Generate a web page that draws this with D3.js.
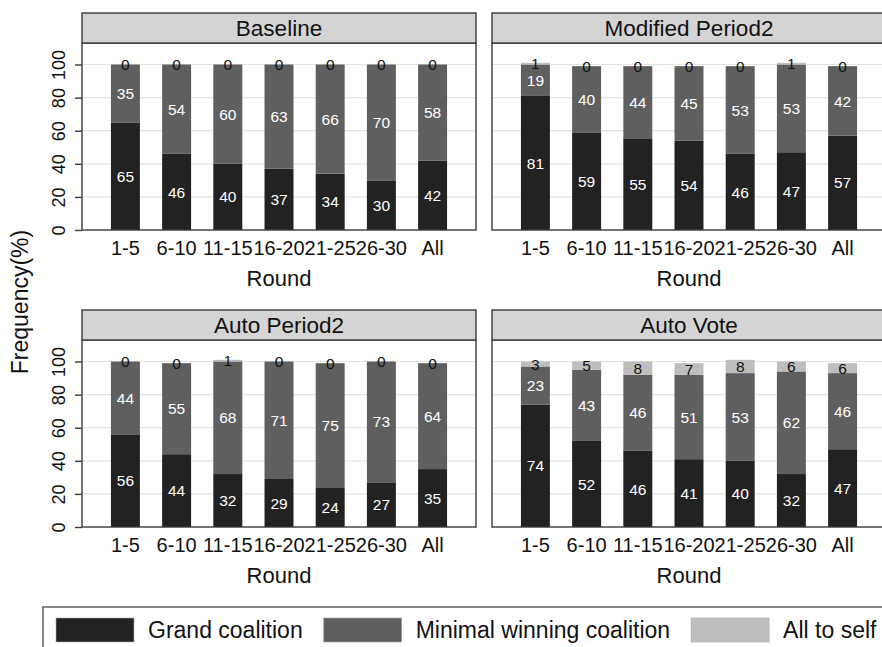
<!DOCTYPE html>
<html>
<head>
<meta charset="utf-8">
<script src="https://cdn.jsdelivr.net/npm/d3@7"></script>
<style>
  body { margin: 0; background: #fff; }
  svg { display: block; font-family: "Liberation Sans", Arial, Helvetica, sans-serif; }
</style>
</head>
<body>
<div id="chart-area"></div>
<script>
// categories
var rounds = ["1-5", "6-10", "11-15", "16-20", "21-25", "26-30", "All"];
var panelTitles = ["Baseline", "Modified Period2", "Auto Period2", "Auto Vote"];
var seriesNames = ["Grand coalition", "Minimal winning coalition", "All to self"];
var yTicks = [0, 20, 40, 60, 80, 100];

// series values (%), one array per panel and series
var baselineGrand = [65, 46, 40, 37, 34, 30, 42];
var baselineMinimal = [35, 54, 60, 63, 66, 70, 58];
var baselineSelf = [0, 0, 0, 0, 0, 0, 0];

var modifiedGrand = [81, 59, 55, 54, 46, 47, 57];
var modifiedMinimal = [19, 40, 44, 45, 53, 53, 42];
var modifiedSelf = [1, 0, 0, 0, 0, 1, 0];

var autoP2Grand = [56, 44, 32, 29, 24, 27, 35];
var autoP2Minimal = [44, 55, 68, 71, 75, 73, 64];
var autoP2Self = [0, 0, 1, 0, 0, 0, 0];

var autoVoteGrand = [74, 52, 46, 41, 40, 32, 47];
var autoVoteMinimal = [23, 43, 46, 51, 53, 62, 46];
var autoVoteSelf = [3, 5, 8, 7, 8, 6, 6];

var colors = ["#222222", "#5f5f5f", "#bebebe"];
var labelColors = ["#fff", "#fff", "#111"];

var panels = [
    { title: panelTitles[0], series: [baselineGrand, baselineMinimal, baselineSelf], left: 82, top: 13, yAxis: true },
    { title: panelTitles[1], series: [modifiedGrand, modifiedMinimal, modifiedSelf], left: 492, top: 13, yAxis: false },
    { title: panelTitles[2], series: [autoP2Grand, autoP2Minimal, autoP2Self], left: 82, top: 310, yAxis: true },
    { title: panelTitles[3], series: [autoVoteGrand, autoVoteMinimal, autoVoteSelf], left: 492, top: 310, yAxis: false }
];

var width = 882, height = 647;
var panelW = 394, stripH = 30, plotH = 187;

var svg = d3.select("#chart-area")
    .append("svg")
    .attr("width", width)
    .attr("height", height);

var x = d3.scaleBand()
    .domain(rounds)
    .range([0, panelW])
    .paddingInner(0.434)
    .paddingOuter(0.565);

var y = d3.scaleLinear()
    .domain([0, 113])
    .range([plotH, 0]);

panels.forEach(function(p) {
    var g = svg.append("g")
        .attr("transform", "translate(" + p.left + "," + (p.top + stripH) + ")");

    // gridlines
    g.selectAll(".grid")
        .data(yTicks.slice(1))
        .enter().append("line")
        .attr("x1", 0).attr("x2", panelW)
        .attr("y1", d => y(d)).attr("y2", d => y(d))
        .attr("stroke", "#e4e4e4")
        .attr("stroke-width", 1.2);

    // stack the three series
    var rows = rounds.map(function(r, i) {
        return { round: r, grand: p.series[0][i], minimal: p.series[1][i], self: p.series[2][i] };
    });
    var stack = d3.stack().keys(["grand", "minimal", "self"])(rows);

    stack.forEach(function(layer, k) {
        g.append("g").selectAll("rect")
            .data(layer)
            .enter().append("rect")
            .attr("x", d => x(d.data.round))
            .attr("y", d => y(d[1]))
            .attr("width", x.bandwidth())
            .attr("height", d => y(d[0]) - y(d[1]))
            .attr("fill", colors[k]);
    });

    stack.forEach(function(layer, k) {
        g.append("g").selectAll("text")
            .data(layer)
            .enter().append("text")
            .attr("x", d => x(d.data.round) + x.bandwidth() / 2)
            .attr("y", d => y((d[0] + d[1]) / 2))
            .attr("dy", "0.36em")
            .attr("text-anchor", "middle")
            .attr("font-size", 15.5)
            .attr("fill", labelColors[k])
            .text(d => d[1] - d[0]);
    });

    // strip
    svg.append("rect")
        .attr("x", p.left).attr("y", p.top)
        .attr("width", panelW).attr("height", stripH)
        .attr("fill", "#d4d4d4")
        .attr("stroke", "#3a3a3a")
        .attr("stroke-width", 1.4);

    svg.append("text")
        .attr("x", p.left + panelW / 2)
        .attr("y", p.top + stripH / 2)
        .attr("dy", "0.36em")
        .attr("text-anchor", "middle")
        .attr("font-size", 22.5)
        .attr("fill", "#111")
        .text(p.title);

    // panel frame
    g.append("rect")
        .attr("x", 0).attr("y", 0)
        .attr("width", panelW).attr("height", plotH)
        .attr("fill", "none")
        .attr("stroke", "#3a3a3a")
        .attr("stroke-width", 1.4);

    // x axis
    var xAxisG = g.append("g")
        .attr("transform", "translate(0," + plotH + ")")
        .call(d3.axisBottom(x).tickSize(0).tickPadding(11));
    xAxisG.select(".domain").remove();
    xAxisG.selectAll("text")
        .attr("font-size", 20)
        .attr("fill", "#111")
        .attr("font-family", null);

    g.append("text")
        .attr("x", panelW / 2)
        .attr("y", plotH + 56)
        .attr("text-anchor", "middle")
        .attr("font-size", 22)
        .attr("fill", "#111")
        .text("Round");

    // y axis
    if (p.yAxis) {
        var yAxisG = g.append("g")
            .call(d3.axisLeft(y).tickValues(yTicks).tickSize(7).tickFormat(d3.format("d")));
        yAxisG.select(".domain").remove();
        yAxisG.selectAll(".tick line").attr("stroke", "#3a3a3a").attr("stroke-width", 1.4);
        yAxisG.selectAll("text")
            .attr("transform", "rotate(-90)")
            .attr("x", 0)
            .attr("y", -17)
            .attr("dy", 0)
            .attr("text-anchor", "middle")
            .attr("font-size", 18)
            .attr("fill", "#111")
            .attr("font-family", null);
    }
});

// y label
svg.append("text")
    .attr("transform", "translate(28,302) rotate(-90)")
    .attr("text-anchor", "middle")
    .attr("font-size", 23)
    .attr("fill", "#111")
    .text("Frequency(%)");

// legend
var legend = svg.append("g");
legend.append("rect")
    .attr("x", 43).attr("y", 607)
    .attr("width", 900).attr("height", 80)
    .attr("fill", "#fff")
    .attr("stroke", "#555")
    .attr("stroke-width", 1.4);

var lx = 56;
seriesNames.forEach(function(name, k) {
    legend.append("rect")
        .attr("x", lx).attr("y", 618)
        .attr("width", 78).attr("height", 24)
        .attr("fill", colors[k])
        .attr("stroke", "#aaa")
        .attr("stroke-width", 0.6);
    var t = legend.append("text")
        .attr("x", lx + 92)
        .attr("y", 630)
        .attr("dy", "0.36em")
        .attr("font-size", 23)
        .attr("fill", "#111")
        .text(name);
    lx = lx + 92 + t.node().getComputedTextLength() + 21;
});
</script>
</body>
</html>
